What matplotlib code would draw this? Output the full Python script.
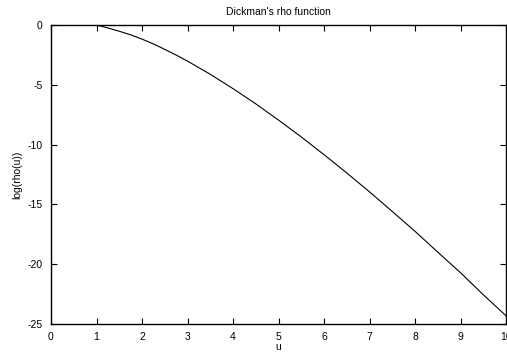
import matplotlib
matplotlib.use('Agg')
import matplotlib.pyplot as plt

plt.rcParams['font.family'] = ['Liberation Sans', 'DejaVu Sans']
plt.rcParams['axes.unicode_minus'] = False

# log(rho(u))
u_vals = [0, 0.5, 1.0, 1.25, 1.5, 1.75, 2.0, 2.25, 2.5, 2.75, 3.0, 3.5, 4.0, 4.5,
          5.0, 5.5, 6.0, 6.5, 7.0, 7.5, 8.0, 8.5, 9.0, 9.5, 10.0]
log_rho = [0, 0, 0, -0.25, -0.52, -0.82, -1.18, -1.58, -2.04, -2.51, -3.02, -4.12, -5.32, -6.59,
           -7.95, -9.36, -10.84, -12.37, -13.95, -15.59, -17.25, -18.99, -20.71, -22.55, -24.31]

x_ticks = [0, 1, 2, 3, 4, 5, 6, 7, 8, 9, 10]
y_ticks = [0, -5, -10, -15, -20, -25]

fig = plt.figure(figsize=(5.07, 3.54), dpi=100)
ax = fig.add_axes([51 / 507, 1 - 324 / 354, 455 / 507, 299 / 354])

ax.plot(u_vals[2:], log_rho[2:], color='black', lw=0.8)

ax.set_xlim(0, 10)
ax.set_ylim(-25, 0)
ax.set_xticks(x_ticks)
ax.set_yticks(y_ticks)
ax.tick_params(direction='in', top=True, right=True, length=4, width=0.8,
               labelsize=7.5, pad=6)
for s in ax.spines.values():
    s.set_linewidth(1.0)

ax.set_title("Dickman's rho function", fontsize=7.5, pad=7)
ax.set_xlabel('u', fontsize=7.5, labelpad=0)
ax.set_ylabel('log(rho(u))', fontsize=7.5, labelpad=4)

fig.savefig('out.png', dpi=100)
